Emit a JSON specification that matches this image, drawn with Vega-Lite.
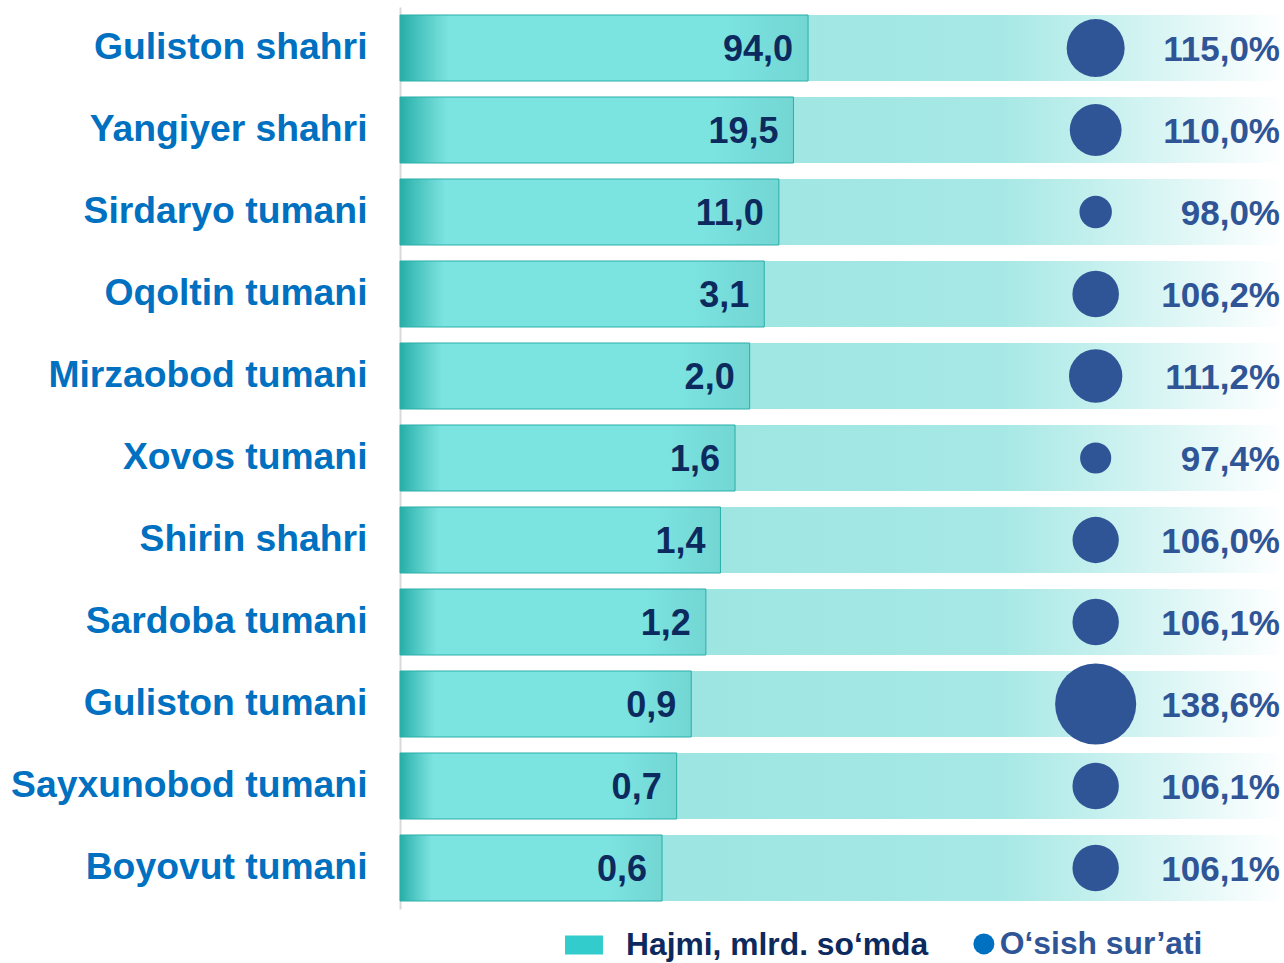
{
  "$schema": "https://vega.github.io/schema/vega-lite/v6.json",
  "width": 884,
  "height": 902,
  "autosize": {"type": "none"},
  "padding": {"left": 400, "top": 7, "right": 0, "bottom": 54},
  "background": "#ffffff",
  "data": {
    "values": [
      {"region": "Guliston shahri", "value": 94.0, "growth": 1.15},
      {"region": "Yangiyer shahri", "value": 19.5, "growth": 1.10},
      {"region": "Sirdaryo tumani", "value": 11.0, "growth": 0.98},
      {"region": "Oqoltin tumani", "value": 3.1, "growth": 1.062},
      {"region": "Mirzaobod tumani", "value": 2.0, "growth": 1.112},
      {"region": "Xovos tumani", "value": 1.6, "growth": 0.974},
      {"region": "Shirin shahri", "value": 1.4, "growth": 1.06},
      {"region": "Sardoba tumani", "value": 1.2, "growth": 1.061},
      {"region": "Guliston tumani", "value": 0.9, "growth": 1.386},
      {"region": "Sayxunobod tumani", "value": 0.7, "growth": 1.061},
      {"region": "Boyovut tumani", "value": 0.6, "growth": 1.061}
    ]
  },
  "transform": [
    {"window": [{"op": "row_number", "as": "rk"}], "sort": [{"field": "value", "order": "ascending"}]}
  ],
  "encoding": {
    "y": {
      "field": "region",
      "type": "nominal",
      "sort": {"field": "value", "order": "descending"},
      "scale": {"paddingInner": 0.195, "paddingOuter": 0.0975},
      "axis": {
        "title": null,
        "domainColor": "#d9d9d9",
        "domainWidth": 2,
        "ticks": false,
        "labelFont": "Liberation Sans",
        "labelFontSize": 37.3,
        "labelFontWeight": "bold",
        "labelColor": "#0070c0",
        "labelPadding": 33,
        "labelLimit": 600
      }
    }
  },
  "layer": [
    {
      "mark": {
        "type": "bar",
        "fill": {
          "gradient": "linear", "x1": 0, "y1": 0, "x2": 1, "y2": 0,
          "stops": [
            {"offset": 0, "color": "#96e3e0"},
            {"offset": 0.68, "color": "#a6e8e5"},
            {"offset": 1, "color": "#ffffff"}
          ]
        }
      },
      "encoding": {
        "x": {"datum": -16.95, "type": "quantitative", "scale": {"domain": [-16.95, 43.6], "zero": false, "nice": false}, "axis": null},
        "x2": {"datum": 43.6}
      }
    },
    {
      "mark": {
        "type": "bar",
        "stroke": "#2aafa9",
        "strokeWidth": 1,
        "fill": {
          "gradient": "linear", "x1": 0, "y1": 0, "x2": 1, "y2": 0,
          "stops": [
            {"offset": 0, "color": "#27aca6"},
            {"offset": 0.03, "color": "#3dbdb8"},
            {"offset": 0.09, "color": "#6ad7d3"},
            {"offset": 0.12, "color": "#7be3e0"},
            {"offset": 0.8, "color": "#7be3e0"},
            {"offset": 1, "color": "#73d6d3"}
          ]
        }
      },
      "encoding": {
        "x": {"field": "rk", "type": "quantitative", "scale": {"domain": [-16.95, 43.6], "zero": false, "nice": false}, "axis": null},
        "x2": {"datum": -16.95}
      }
    },
    {
      "mark": {
        "type": "text",
        "align": "right",
        "baseline": "middle",
        "dx": -15,
        "dy": 2,
        "font": "Liberation Sans",
        "fontSize": 36,
        "fontWeight": "bold",
        "color": "#0d2a5e"
      },
      "encoding": {
        "x": {"field": "rk", "type": "quantitative", "scale": {"domain": [-16.95, 43.6], "zero": false, "nice": false}, "axis": null},
        "text": {"field": "value", "type": "quantitative", "format": ".1f"}
      }
    },
    {
      "mark": {"type": "circle", "color": "#2f5597", "opacity": 1},
      "encoding": {
        "x": {"datum": 30.7, "type": "quantitative", "scale": {"domain": [-16.95, 43.6], "zero": false, "nice": false}, "axis": null},
        "size": {"field": "growth", "type": "quantitative", "scale": {"domain": [0.974, 1.386], "range": [970, 6580], "zero": false}, "legend": null}
      }
    },
    {
      "mark": {
        "type": "text",
        "align": "right",
        "baseline": "middle",
        "dx": -4,
        "dy": 2,
        "font": "Liberation Sans",
        "fontSize": 35,
        "fontWeight": "bold",
        "color": "#2f5597"
      },
      "encoding": {
        "x": {"datum": 43.6, "type": "quantitative", "scale": {"domain": [-16.95, 43.6], "zero": false, "nice": false}, "axis": null},
        "text": {"field": "growth", "type": "quantitative", "format": ".1%"}
      }
    },
    {
      "mark": {"type": "point", "shape": "square", "filled": true, "opacity": 0},
      "encoding": {
        "x": {"datum": 0, "type": "quantitative", "scale": {"domain": [-16.95, 43.6], "zero": false, "nice": false}, "axis": null},
        "fill": {
          "datum": "Hajmi, mlrd. so‘mda",
          "type": "nominal",
          "scale": {"range": ["#33cccc"]},
          "legend": {
            "title": null,
            "orient": "none",
            "legendX": 165,
            "legendY": 919,
            "direction": "horizontal",
            "symbolType": "M-1,-0.5H1V0.5H-1Z",
            "symbolSize": 1444,
            "symbolOpacity": 1,
            "symbolStrokeWidth": 0,
            "labelFont": "Liberation Sans",
            "labelFontSize": 31.8,
            "labelFontWeight": "bold",
            "labelColor": "#0d2a5e",
            "labelOffset": 23,
            "labelLimit": 600
          }
        }
      }
    },
    {
      "mark": {"type": "circle", "opacity": 0},
      "encoding": {
        "x": {"datum": 0, "type": "quantitative", "scale": {"domain": [-16.95, 43.6], "zero": false, "nice": false}, "axis": null},
        "color": {
          "datum": "O‘sish sur’ati",
          "type": "nominal",
          "scale": {"range": ["#0070c0"]},
          "legend": {
            "title": null,
            "orient": "none",
            "legendX": 568,
            "legendY": 921,
            "direction": "horizontal",
            "symbolType": "circle",
            "symbolSize": 441,
            "symbolOpacity": 1,
            "symbolStrokeWidth": 0,
            "labelFont": "Liberation Sans",
            "labelFontSize": 31.8,
            "labelFontWeight": "bold",
            "labelColor": "#2f5597",
            "labelOffset": 0,
            "labelLimit": 600
          }
        }
      }
    }
  ],
  "config": {
    "view": {"stroke": null},
    "font": "Liberation Sans",
    "locale": {"number": {"decimal": ",", "thousands": " ", "grouping": [3], "currency": ["", ""]}}
  }
}
